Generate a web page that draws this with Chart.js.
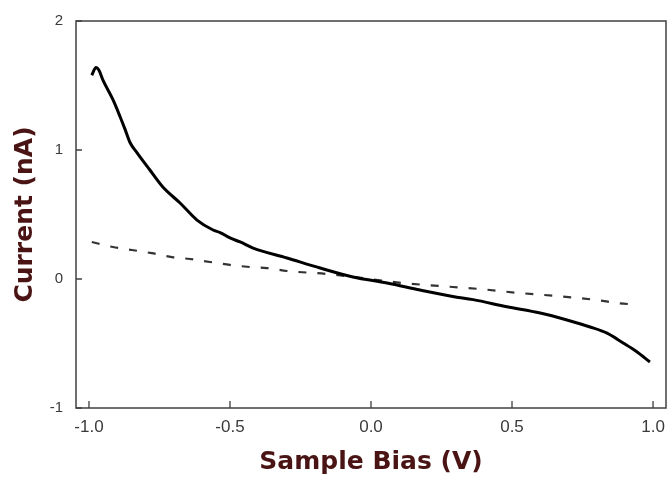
<!DOCTYPE html>
<html>
<head>
<meta charset="utf-8">
<script src="https://cdn.jsdelivr.net/npm/chart.js@4/dist/chart.umd.min.js"></script>
<style>
  html, body { margin: 0; padding: 0; background: #fff; }
  #wrap { width: 667px; height: 477px; }
</style>
</head>
<body>
<div id="wrap"><canvas id="ivChart" width="667" height="477"></canvas></div>
<script>
// --- DATA ---
const solidBias = [-0.99, -0.975, -0.965, -0.95, -0.915, -0.89, -0.872, -0.855, -0.83, -0.784, -0.738, -0.677, -0.617, -0.56, -0.535, -0.5, -0.464, -0.418, -0.298, -0.18, -0.064, 0.057, 0.174, 0.29, 0.362, 0.482, 0.6, 0.695, 0.777, 0.837, 0.894, 0.94, 0.989];
const solidCurrent = [1.58, 1.64, 1.62, 1.54, 1.39, 1.26, 1.16, 1.06, 0.98, 0.845, 0.713, 0.589, 0.457, 0.38, 0.36, 0.318, 0.287, 0.24, 0.163, 0.085, 0.016, -0.031, -0.085, -0.135, -0.16, -0.215, -0.264, -0.318, -0.372, -0.42, -0.496, -0.56, -0.643];

const dashBias = [-0.99, -0.915, -0.848, -0.777, -0.706, -0.642, -0.571, -0.5, -0.43, -0.369, -0.298, -0.156, 0.113, 0.29, 0.387, 0.528, 0.66, 0.8, 0.872, 0.947];
const dashCurrent = [0.287, 0.248, 0.225, 0.2, 0.17, 0.155, 0.132, 0.109, 0.093, 0.085, 0.062, 0.039, -0.031, -0.062, -0.078, -0.109, -0.132, -0.163, -0.186, -0.2];

const xTicks = [-1.0, -0.5, 0.0, 0.5, 1.0];
const yTicks = [-1, 0, 1, 2];

const titleColor = '#4a1414';

// frame box plus short inward tick marks
const framePlugin = {
    id: 'frame',
    afterDraw(chart) {
        const { ctx, chartArea: a, scales } = chart;
        ctx.save();
        ctx.strokeStyle = '#404040';
        ctx.lineWidth = 1.5;
        ctx.strokeRect(a.left, a.top, a.right - a.left, a.bottom - a.top);
        ctx.lineWidth = 1.3;
        ctx.beginPath();
        xTicks.forEach(v => {
            const px = scales.x.getPixelForValue(v);
            ctx.moveTo(px, a.bottom);
            ctx.lineTo(px, a.bottom - 7);
        });
        yTicks.forEach(v => {
            const py = scales.y.getPixelForValue(v);
            ctx.moveTo(a.left, py);
            ctx.lineTo(a.left + 6, py);
        });
        ctx.stroke();
        ctx.restore();
    }
};

const ctx = document.getElementById('ivChart').getContext('2d');

new Chart(ctx, {
    type: 'scatter',
    data: {
        datasets: [
            {
                data: solidBias.map((x, i) => ({ x, y: solidCurrent[i] })),
                showLine: true,
                borderColor: '#000',
                borderWidth: 3,
                pointRadius: 0,
                cubicInterpolationMode: 'monotone'
            },
            {
                data: dashBias.map((x, i) => ({ x, y: dashCurrent[i] })),
                showLine: true,
                borderColor: '#333',
                borderWidth: 2.2,
                borderDash: [8, 11],
                pointRadius: 0,
                cubicInterpolationMode: 'monotone'
            }
        ]
    },
    options: {
        responsive: false,
        animation: false,
        layout: { padding: { top: 21, right: 1, left: 0, bottom: 0 } },
        plugins: {
            legend: { display: false },
            tooltip: { enabled: false }
        },
        scales: {
            x: {
                type: 'linear',
                min: -1.046,
                max: 1.046,
                afterBuildTicks: s => { s.ticks = xTicks.map(v => ({ value: v })); },
                afterFit: s => {
                    s.height = 69;
                    // labels may hang over the frame, like in the original
                    s.paddingLeft = 0;
                    s.paddingRight = 0;
                },
                grid: { display: false, drawTicks: false },
                border: { display: false },
                ticks: {
                    padding: 9,
                    color: '#3a3a3a',
                    font: { family: 'Liberation Sans, Arial, sans-serif', size: 17 },
                    callback: v => v.toFixed(1)
                },
                title: {
                    display: true,
                    text: 'Sample Bias (V)',
                    color: titleColor,
                    padding: { top: 0, bottom: 0 },
                    font: { family: 'DejaVu Sans, sans-serif', size: 25, weight: 'bold' }
                }
            },
            y: {
                min: -1,
                max: 2,
                afterBuildTicks: s => { s.ticks = yTicks.map(v => ({ value: v })); },
                afterFit: s => {
                    s.width = 76;
                    s.paddingTop = 0;
                    s.paddingBottom = 0;
                },
                grid: { display: false, drawTicks: false },
                border: { display: false },
                ticks: {
                    padding: 13,
                    color: '#3a3a3a',
                    font: { family: 'Liberation Sans, Arial, sans-serif', size: 15 },
                    callback: v => String(v)
                },
                title: {
                    display: true,
                    text: 'Current (nA)',
                    color: titleColor,
                    padding: { top: 10, bottom: 0 },
                    font: { family: 'DejaVu Sans, sans-serif', size: 25, weight: 'bold' }
                }
            }
        }
    },
    plugins: [framePlugin]
});
</script>
</body>
</html>
